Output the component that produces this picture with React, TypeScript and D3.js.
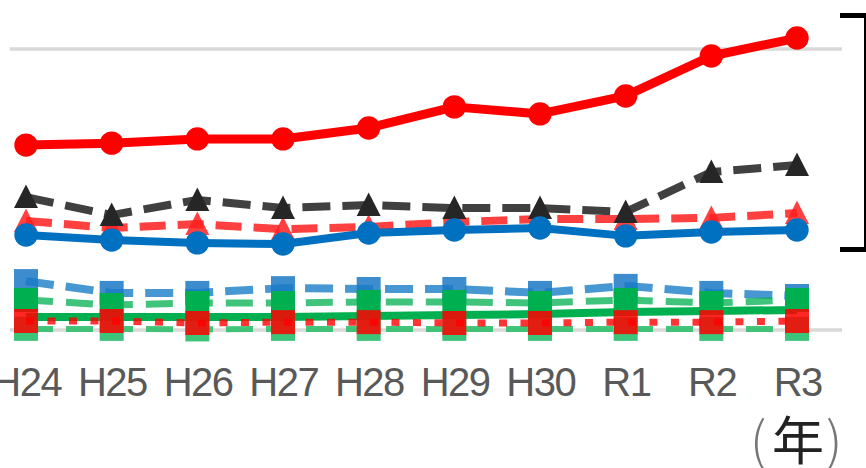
import React from "react";
import * as d3 from "d3";

// categories (fiscal years)
const years = ["H24", "H25", "H26", "H27", "H28", "H29", "H30", "R1", "R2", "R3"];

// series values (0 = bottom gridline, 100 = top gridline)
const redSolid = [65.8, 66.5, 68.0, 68.0, 71.9, 79.4, 76.9, 83.3, 97.5, 103.9];
const darkDash = [47.3, 40.9, 46.3, 43.4, 44.5, 43.4, 43.4, 42.0, 56.2, 58.7];
const redDash = [38.8, 36.3, 37.7, 35.9, 36.7, 38.4, 39.5, 39.5, 39.9, 41.6];
const blueSolid = [33.8, 32.0, 31.0, 30.6, 34.5, 35.6, 36.3, 33.5, 34.9, 35.6];
const blueDash = [17.4, 13.2, 13.2, 14.9, 14.6, 14.6, 13.2, 15.7, 13.2, 12.1];
const greenDash = [10.7, 8.9, 9.6, 9.6, 10.0, 10.0, 9.6, 10.7, 9.6, 10.7];
const greenSolid = [4.6, 4.6, 4.6, 4.6, 5.0, 5.3, 5.7, 6.4, 6.8, 7.1];
const redDot = [3.2, 3.2, 2.5, 2.8, 2.8, 2.5, 2.5, 2.8, 2.8, 3.2];
const lightGreenDash = [0.4, 0.4, 0.2, 0.4, 0.4, 0.4, 0.4, 0.4, 0.4, 0.4];

const gridValues = [0, 100];

type Marker = "circle" | "triangle" | "square" | "none";

interface Series {
  values: number[];
  color: string;
  width: number;
  dash: string | null;
  lineOpacity: number;
  marker: Marker;
  markerColor: string;
  markerOpacity: number;
}

// drawing order: first one at the bottom
const series: Series[] = [
  { values: lightGreenDash, color: "#2fbf6c", width: 6, dash: "27 13", lineOpacity: 0.9, marker: "square", markerColor: "#3cc47a", markerOpacity: 1 },
  { values: blueDash, color: "#0070c0", width: 8, dash: "28 12", lineOpacity: 0.72, marker: "square", markerColor: "#1a78c6", markerOpacity: 0.85 },
  { values: greenDash, color: "#00b050", width: 7, dash: "27 13", lineOpacity: 0.75, marker: "square", markerColor: "#00b050", markerOpacity: 1 },
  { values: greenSolid, color: "#00b050", width: 8, dash: null, lineOpacity: 1, marker: "none", markerColor: "#00b050", markerOpacity: 1 },
  { values: redDot, color: "#ff0000", width: 7, dash: "8 13.5", lineOpacity: 0.8, marker: "square", markerColor: "#ff0000", markerOpacity: 0.85 },
  { values: redDash, color: "#ff0000", width: 8, dash: "26 12", lineOpacity: 0.75, marker: "triangle", markerColor: "#ff2020", markerOpacity: 0.85 },
  { values: darkDash, color: "#404040", width: 8, dash: "28 12", lineOpacity: 1, marker: "triangle", markerColor: "#262626", markerOpacity: 1 },
  { values: blueSolid, color: "#0070c0", width: 8, dash: null, lineOpacity: 1, marker: "circle", markerColor: "#0070c0", markerOpacity: 1 },
  { values: redSolid, color: "#ff0000", width: 9, dash: null, lineOpacity: 1, marker: "circle", markerColor: "#ff0000", markerOpacity: 1 },
];

const W = 866;
const H = 468;

const markerPath = (m: Marker): string => {
  if (m === "circle") return d3.symbol(d3.symbolCircle, 430)()!;
  if (m === "square") return d3.symbol(d3.symbolSquare, 24 * 24)()!;
  if (m === "triangle") return "M0,-12.5L12,11L-12,11Z";
  return "";
};

const App: React.FC = () => {
  const x = d3.scalePoint<string>().domain(years).range([26, 797]);
  const y = d3.scaleLinear().domain([0, 100]).range([330, 49]);
  const gridLeft = 10;
  const gridRight = 842;

  const line = d3
    .line<number>()
    .x((_, i) => x(years[i])!)
    .y((d) => y(d));

  return (
    <svg
      width={W}
      height={H}
      style={{ position: "absolute", left: 0, top: 0, background: "#fff" }}
    >
      {/* gridlines */}
      {gridValues.map((g) => (
        <line key={g} x1={gridLeft} x2={gridRight} y1={y(g)} y2={y(g)} stroke="#d9d9d9" strokeWidth={3.5} />
      ))}

      {/* series */}
      {series.map((s, si) => (
        <g key={si}>
          <path
            d={line(s.values)!}
            fill="none"
            stroke={s.color}
            strokeWidth={s.width}
            strokeDasharray={s.dash ?? undefined}
            strokeOpacity={s.lineOpacity}
            strokeLinejoin="round"
          />
          {s.marker !== "none" &&
            s.values.map((v, i) => (
              <path
                key={i}
                d={markerPath(s.marker)}
                transform={`translate(${x(years[i])},${y(v)})`}
                fill={s.markerColor}
                fillOpacity={s.markerOpacity}
              />
            ))}
        </g>
      ))}

      {/* category labels */}
      {years.map((yr) => (
        <text
          key={yr}
          x={x(yr)! + 0.75}
          y={396}
          textAnchor="middle"
          fontFamily="Liberation Sans, Arial, sans-serif"
          fontSize={40}
          letterSpacing={-1.5}
          fill="#595959"
        >
          {yr}
        </text>
      ))}

      {/* unit label */}
      <text y={460} fontFamily="Noto Sans CJK JP, sans-serif" fontSize={52} fill="#222">
        <tspan x={750} fontWeight={300} fill="#777">(</tspan>
        <tspan x={772}>年</tspan>
        <tspan x={826} fontWeight={300} fill="#777">)</tspan>
      </text>

      {/* bracket on the right */}
      <path d="M840,15.5H865V249.5H840" fill="none" stroke="#000" strokeWidth={2} />
      <rect x={840} y={13} width={26} height={5} fill="#000" />
      <rect x={840} y={247} width={26} height={5} fill="#000" />
    </svg>
  );
};

export default App;
